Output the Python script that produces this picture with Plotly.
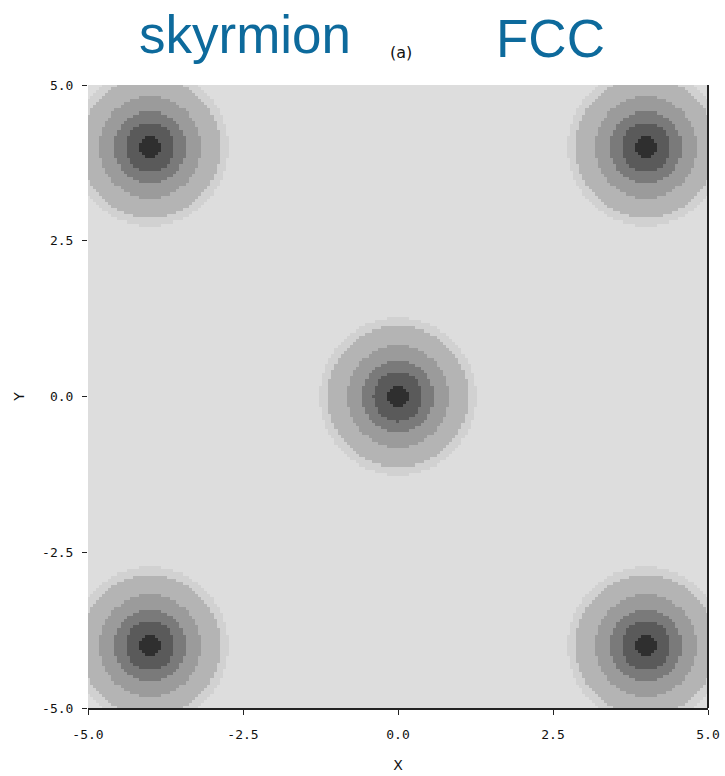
import numpy as np
import plotly.graph_objects as go

# Data
centers_x = [0.0, -4.0, 4.0, -4.0, 4.0]
centers_y = [0.0, 4.0, 4.0, -4.0, -4.0]
ring_radii = [0.18, 0.40, 0.58, 0.82, 1.13, 1.26]   # contour boundaries (units)
ring_colors = ["#2f2f2f", "#5a5a5a", "#7a7a7a", "#9b9b9b", "#b4b4b4", "#d1d1d1", "#dddddd"]
tick_vals = [-5.0, -2.5, 0.0, 2.5, 5.0]
tick_text = ["-5.0", "-2.5", "0.0", "2.5", "5.0"]

n = 201
gx = np.linspace(-5, 5, n)
gy = np.linspace(-5, 5, n)
X, Y = np.meshgrid(gx, gy)
dist = np.full(X.shape, np.inf)
for cx, cy in zip(centers_x, centers_y):
    dist = np.minimum(dist, np.hypot(X - cx, Y - cy))
level = np.digitize(dist, ring_radii)

nl = len(ring_colors)
cs = []
for i, c in enumerate(ring_colors):
    cs.append([i / nl, c])
    cs.append([(i + 1) / nl, c])

fig = go.Figure(go.Heatmap(
    x=gx, y=gy, z=level, colorscale=cs, zmin=-0.5, zmax=nl - 0.5,
    showscale=False, zsmooth=False, hoverinfo="skip"))

axis_common = dict(range=[-5, 5], tickvals=tick_vals, ticktext=tick_text,
                   ticks="outside", ticklen=5, tickcolor="#222", showgrid=False,
                   zeroline=False, automargin=False,
                   tickfont=dict(family="DejaVu Sans Mono", size=13, color="#111"))
fig.update_xaxes(**axis_common, showline=True, linecolor="#222", linewidth=1.5,
                 ticklabelstandoff=9,
                 title=dict(text="X", font=dict(family="DejaVu Sans", size=14, color="#111"), standoff=19))
fig.update_yaxes(**axis_common, showline=False, ticklabelstandoff=6,
                 title=dict(text="Y", font=dict(family="DejaVu Sans", size=14, color="#111"), standoff=14))

fig.add_shape(type="line", xref="paper", yref="paper", x0=1, x1=1, y0=0, y1=1,
              line=dict(color="#222", width=2))

title_font = dict(family="Liberation Sans", size=53, color="#0d6a9c")
fig.add_annotation(text="skyrmion", xref="paper", yref="paper", x=(245 - 88) / 620, y=1 + (85 - 35) / 623,
                   showarrow=False, font=title_font, xanchor="center", yanchor="middle")
fig.add_annotation(text="FCC", xref="paper", yref="paper", x=(550 - 88) / 620, y=1 + (85 - 38) / 623,
                   showarrow=False, font=title_font, xanchor="center", yanchor="middle")
fig.add_annotation(text="(a)", xref="paper", yref="paper", x=(401 - 88) / 620, y=1 + (85 - 53) / 623,
                   showarrow=False, font=dict(family="DejaVu Sans", size=16, color="#111"),
                   xanchor="center", yanchor="middle")

fig.update_layout(width=725, height=776, margin=dict(l=88, r=17, t=85, b=68),
                  paper_bgcolor="white", plot_bgcolor="#dddddd")
fig.write_html("out.html")
